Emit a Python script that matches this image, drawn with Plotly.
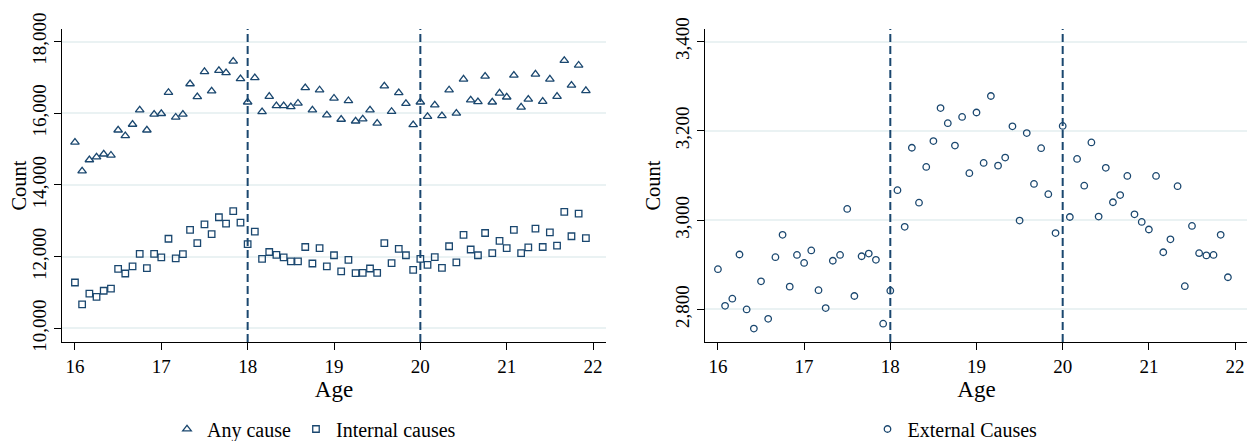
import plotly.graph_objects as go
from plotly.subplots import make_subplots

# monthly age bins, 16 to 22
ages = [16.000, 16.083, 16.167, 16.250, 16.333, 16.417, 16.500, 16.583, 16.667, 16.750, 16.833, 16.917,
        17.000, 17.083, 17.167, 17.250, 17.333, 17.417, 17.500, 17.583, 17.667, 17.750, 17.833, 17.917,
        18.000, 18.083, 18.167, 18.250, 18.333, 18.417, 18.500, 18.583, 18.667, 18.750, 18.833, 18.917,
        19.000, 19.083, 19.167, 19.250, 19.333, 19.417, 19.500, 19.583, 19.667, 19.750, 19.833, 19.917,
        20.000, 20.083, 20.167, 20.250, 20.333, 20.417, 20.500, 20.583, 20.667, 20.750, 20.833, 20.917,
        21.000, 21.083, 21.167, 21.250, 21.333, 21.417, 21.500, 21.583, 21.667, 21.750, 21.833, 21.917]

any_cause = [15190, 14390, 14700, 14780, 14860, 14830, 15530, 15370, 15690, 16090, 15530, 15970,
             15990, 16580, 15890, 15970, 16820, 16460, 17160, 16620, 17190, 17130, 17450, 16960,
             16310, 16990, 16040, 16470, 16210, 16210, 16180, 16280, 16710, 16090, 16650, 15950,
             16420, 15830, 16350, 15780, 15840, 16090, 15720, 16760, 16050, 16570, 16270, 15680,
             16310, 15910, 16230, 15930, 16650, 16000, 16950, 16370, 16320, 17030, 16310, 16560,
             16450, 17060, 16170, 16390, 17090, 16330, 16950, 16470, 17470, 16780, 17340, 16630]

internal = [11280, 10670, 10970, 10880, 11050, 11110, 11660, 11530, 11730, 12080, 11680, 12080,
            11980, 12500, 11950, 12070, 12750, 12380, 12900, 12630, 13100, 12920, 13270, 12950,
            12350, 12700, 11940, 12130, 12050, 11980, 11870, 11870, 12270, 11810, 12240, 11730,
            12040, 11590, 11910, 11540, 11550, 11670, 11550, 12380, 11820, 12220, 12040, 11630,
            11940, 11770, 11990, 11690, 12290, 11840, 12610, 12200, 12040, 12660, 12100, 12440,
            12240, 12750, 12100, 12260, 12780, 12270, 12680, 12310, 13250, 12570, 13200, 12520]

external = [2890, 2808, 2824, 2923, 2800, 2757, 2863, 2779, 2917, 2967, 2851, 2922,
            2904, 2932, 2843, 2803, 2909, 2922, 3025, 2830, 2919, 2925, 2911, 2768,
            2842, 3067, 2985, 3162, 3039, 3119, 3177, 3251, 3217, 3167, 3231, 3105,
            3241, 3128, 3278, 3122, 3140, 3210, 2999, 3195, 3081, 3161, 3058, 2971,
            3211, 3007, 3137, 3077, 3174, 3008, 3117, 3040, 3056, 3099, 3013, 2996,
            2979, 3099, 2928, 2957, 3076, 2852, 2987, 2926, 2921, 2922, 2967, 2872]

cutoffs = [18, 20]
x_ticks = [16, 17, 18, 19, 20, 21, 22]
left_ticks = [10000, 12000, 14000, 16000, 18000]
right_ticks = [2800, 3000, 3200, 3400]

navy = "#1a476f"
grid = "#eaf2f3"
font = "Liberation Serif"

# page body adds an 8px offset, so the figure is laid out 8px up/left of the target
W, H = 1255, 460

fig = make_subplots(rows=1, cols=2)

fig.add_trace(go.Scatter(x=ages, y=any_cause, mode="markers", name="Any cause",
                         marker=dict(symbol="triangle-up-open", size=7.5, color=navy,
                                     line=dict(width=1.3, color=navy)),
                         legend="legend"), row=1, col=1)
fig.add_trace(go.Scatter(x=ages, y=internal, mode="markers", name="Internal causes",
                         marker=dict(symbol="square-open", size=6.5, color=navy,
                                     line=dict(width=1.3, color=navy)),
                         legend="legend"), row=1, col=1)
fig.add_trace(go.Scatter(x=ages, y=external, mode="markers", name="External Causes",
                         marker=dict(symbol="circle-open", size=6.5, color=navy,
                                     line=dict(width=1.3, color=navy)),
                         legend="legend2"), row=1, col=2)

for c in (1, 2):
    for cut in cutoffs:
        fig.add_vline(x=cut, line=dict(color=navy, width=2, dash="8px,4px"), row=1, col=c)

xax = dict(tickvals=x_ticks, range=[15.85, 22.15], showline=True, linecolor="black", linewidth=1,
           ticks="outside", ticklen=7, tickcolor="black", showgrid=False, zeroline=False,
           automargin=False, tickfont=dict(family=font, size=19, color="black"),
           title=dict(text="Age", font=dict(family=font, size=23, color="black"), standoff=0))
yax = dict(showline=True, linecolor="black", linewidth=1, ticks="outside", ticklen=7,
           tickcolor="black", showgrid=True, gridcolor=grid, gridwidth=1.5, zeroline=False,
           automargin=False, tickangle=-90, tickformat=",",
           tickfont=dict(family=font, size=19, color="black"),
           title=dict(text="Count", font=dict(family=font, size=20.5, color="black"), standoff=6))

ydom = [1 - 334 / H, 1 - 21 / H]

fig.update_layout(
    width=W, height=H,
    margin=dict(l=0, r=0, t=0, b=0),
    plot_bgcolor="white", paper_bgcolor="white",
    xaxis=dict(xax, domain=[54 / W, 598 / W]),
    xaxis2=dict(xax, domain=[697 / W, 1240 / W]),
    yaxis=dict(yax, domain=ydom, range=[9620, 18350], tickvals=left_ticks),
    yaxis2=dict(yax, domain=ydom, range=[2727, 3428], tickvals=right_ticks),
    legend=dict(orientation="h", x=306 / W, xanchor="center", y=1 - 421 / H, yanchor="middle",
                font=dict(family=font, size=20, color="black"), itemwidth=30),
    legend2=dict(orientation="h", x=947 / W, xanchor="center", y=1 - 421 / H, yanchor="middle",
                 font=dict(family=font, size=20, color="black"), itemwidth=30),
)

fig.write_html("out.html")
